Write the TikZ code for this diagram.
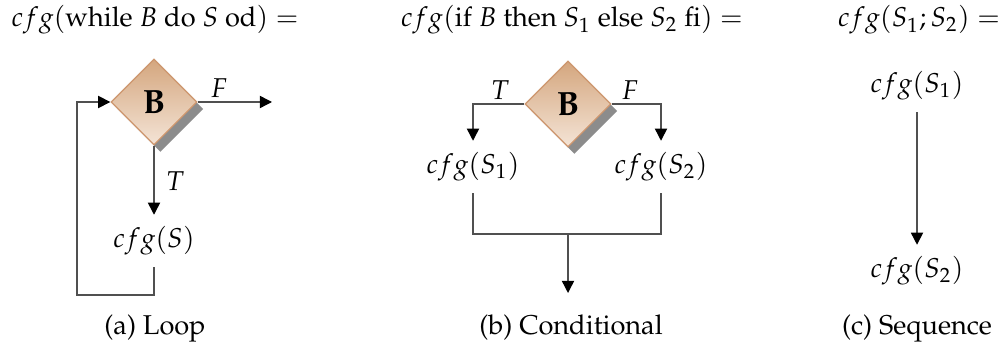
\documentclass[tikz,border=0pt]{standalone}
\usepackage[T1]{fontenc}
\usepackage{mathpazo}
\usetikzlibrary{shapes.geometric,arrows.meta,shadows}
\definecolor{dtop}{RGB}{212,166,126}
\definecolor{dbot}{RGB}{244,228,214}
\definecolor{dborder}{RGB}{205,150,110}
\definecolor{lcol}{RGB}{80,80,80}
\newcommand{\myfs}{\fontsize{8.5}{10.2}\selectfont}
\tikzset{
  dec/.style={diamond, minimum width=26.9pt, minimum height=26.9pt, inner sep=0pt,
    top color=dtop, bottom color=dbot, draw=dborder, line width=0.4pt,
    drop shadow={shadow xshift=2.0pt, shadow yshift=-2.2pt, fill=black!45, opacity=1},
    font=\fontsize{10.5}{12}\selectfont\bfseries},
  txt/.style={inner sep=3.5pt},
  ln/.style={draw=lcol, line width=0.45pt},
  arr/.style={ln, -{Triangle[width=3.8pt,length=3.8pt,fill=black,color=black]}},
  lab/.style={inner sep=0pt},
}
\begin{document}
\begin{tikzpicture}[x=0.3125pt,y=-0.3125pt,font=\myfs]
\useasboundingbox (0,0) rectangle (1001,347);
% ---------- (a) Loop
\node[anchor=base west, inner sep=0pt] (ta) at (11,27) {$cfg(\mbox{while }B\mbox{ do }S\mbox{ od}) =$};
\node[dec] (d1) at (154,102) {B};
\node[txt] (s) at (154,241) {$cfg(S)$};
\coordinate (fa) at (272,102);
\coordinate (lb) at (77,295);
\draw[arr] (d1.east) -- (fa);
\node[lab] (lf) at (219,88) {$F$};
\draw[arr] (d1.south) -- (s.north);
\node[lab] (lt) at (175,181) {$T$};
\draw[arr] (s.south) -- (s.south |- lb) -- (lb) |- (d1.west);
\node[anchor=base, inner sep=0pt] (ca) at (155,334) {(a) Loop};
% ---------- (b) Conditional
\node[anchor=base, inner sep=0pt] (tb) at (572,27) {$cfg(\mbox{if }B\mbox{ then }S_1\mbox{ else }S_2\mbox{ fi}) =$};
\node[dec] (d2) at (568,104) {B};
\node[txt] (s1) at (473,167) {$cfg(S_1)$};
\node[txt] (s2) at (661,167) {$cfg(S_2)$};
\draw[arr] (d2.west) -| (s1.north);
\draw[arr] (d2.east) -| (s2.north);
\node[lab] (bt) at (500,90) {$T$};
\node[lab] (bf) at (630,90) {$F$};
\coordinate (jn) at (568,234);
\coordinate (ex) at (568,293);
\draw[ln] (s1.south) |- (jn) -| (s2.south);
\draw[arr] (jn) -- (ex);
\node[anchor=base, inner sep=0pt] (cb) at (571,334) {(b) Conditional};
% ---------- (c) Sequence
\node[anchor=base, inner sep=0pt] (tc) at (919,27) {$cfg(S_1;S_2) =$};
\node[txt] (q1) at (917,86) {$cfg(S_1)$};
\node[txt] (q2) at (917,271) {$cfg(S_2)$};
\draw[arr] (q1.south) -- (q2.north);
\node[anchor=base, inner sep=0pt] (cc) at (917,334) {(c) Sequence};
\end{tikzpicture}
\end{document}
